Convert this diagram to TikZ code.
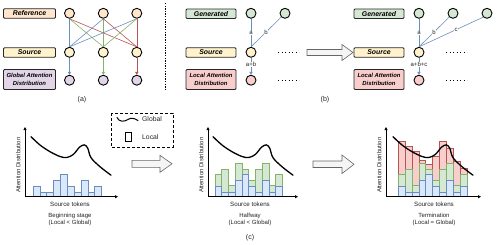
\documentclass[tikz,border=0pt]{standalone}
\usepackage{fontspec}
\setmainfont{Liberation Sans}
\usetikzlibrary{arrows.meta}
\definecolor{blueF}{HTML}{DAE8FC}
\definecolor{blueD}{HTML}{6C8EBF}
\definecolor{greenF}{HTML}{D5E8D4}
\definecolor{greenD}{HTML}{82B366}
\definecolor{redF}{HTML}{F8CECC}
\definecolor{redD}{HTML}{B85450}
\definecolor{purpF}{HTML}{E1D5E7}
\definecolor{orngF}{HTML}{FFE6CC}
\definecolor{yellF}{HTML}{FFF2CC}
\definecolor{arrF}{HTML}{F5F5F5}
\definecolor{arrD}{HTML}{666666}
\definecolor{txtC}{HTML}{222222}
\begin{document}
\begin{tikzpicture}[x=1pt,y=-1pt,
  lbox/.style={draw=black!85, line width=0.8pt, rounded corners=1pt, minimum width=52pt, minimum height=9.5pt, inner sep=0pt, font=\fontsize{6.9}{7.3}\selectfont\bfseries\itshape, align=center},
  lbox2/.style={lbox, minimum height=20pt, font=\fontsize{5.9}{7.3}\selectfont\bfseries\itshape},
  dot/.style={circle, draw=black, line width=0.9pt, minimum size=10pt, inner sep=0pt},
  lab/.style={font=\fontsize{6}{6}\selectfont, inner sep=0.3pt, fill=white, text=txtC},
  conn/.style={line width=0.6pt},
  tip/.style={-{Triangle[length=3pt,width=3.4pt]}},
  txt/.style={font=\fontsize{6}{7.2}\selectfont, align=center, inner sep=0pt, text=txtC},
  small/.style={font=\fontsize{6}{6}\selectfont, inner sep=0pt, text=txtC},
  hollow/.style={fill=arrF, draw=arrD, line width=0.6pt},
  axis/.style={line width=0.7pt, -{Triangle[length=3pt,width=3pt]}},
  curve/.style={line width=1.3pt, line cap=round},
  bbar/.style={fill=blueF, draw=blueD, line width=0.6pt},
  gbar/.style={fill=greenF, draw=greenD, line width=0.6pt},
  rbar/.style={fill=redF, draw=redD, line width=0.6pt},
  dots/.style={line width=0.9pt, dash pattern=on 0.9pt off 2.6pt}
]
\useasboundingbox (0,0) rectangle (498,244);

% ---------------- panel (a) ----------------
\node[lbox, fill=orngF] (refbox) at (29.5,13.5) {Reference};
\node[lbox, fill=yellF] (srcbox) at (29.5,52.5) {Source};
\node[lbox2, fill=purpF] (glbox) at (29.5,79.5) {Global Attention\\Distribution};

\foreach \x [count=\i] in {69.5,103.3,136.8}{
  \node[dot, fill=orngF] (r\i) at (\x,13.3) {};
  \node[dot, fill=yellF] (s\i) at (\x,52.3) {};
  \node[dot, fill=purpF] (d\i) at (\x,80.2) {};
}
\foreach \i in {1,2,3}{
  \draw[conn, blueD]  (r\i.south) -- (s1.north);
  \draw[conn, greenD] (r\i.south) -- (s2.north);
  \draw[conn, redD]   (r\i.south) -- (s3.north);
}
\draw[conn, blueD, tip]  (s1.south) -- (d1.north);
\draw[conn, greenD, tip] (s2.south) -- (d2.north);
\draw[conn, redD, tip]   (s3.south) -- (d3.north);
\node[txt, font=\fontsize{7}{8}\selectfont] (la) at (82,99.5) {(a)};

% divider
\coordinate (dvt) at (165,3);
\coordinate (dvb) at (165,90);
\draw[line width=0.6pt, dash pattern=on 1.3pt off 1.3pt] (dvt) -- (dvb);

% ---------------- panel (b) left ----------------
\node[lbox, fill=greenF, minimum width=50pt] (genboxA) at (211,13.8) {Generated};
\node[lbox, fill=yellF, minimum width=50pt] (srcboxA) at (211,52.5) {Source};
\node[lbox2, fill=redF, minimum width=50pt] (locboxA) at (211,79.5) {Local Attention\\Distribution};
\node[dot, fill=greenF] (gA1) at (251,13.3) {};
\node[dot, fill=greenF] (gA2) at (285,13.3) {};
\node[dot, fill=yellF] (sA) at (251,52.3) {};
\node[dot, fill=redF] (lA) at (251,80.2) {};
\draw[conn, blueD] (gA1.south) -- node[lab, pos=0.5] {a} (sA.north);
\draw[conn, blueD] (gA2.south west) -- node[lab, pos=0.5] {b} (sA.north);
\draw[conn, blueD, tip] (sA.south) -- node[lab, pos=0.4] {a+b} (lA.north);
\coordinate (dA1) at (278,52.3); \coordinate (dA2) at (299,52.3);
\coordinate (dA3) at (278,80.2); \coordinate (dA4) at (299,80.2);
\draw[dots] (dA1) -- (dA2);
\draw[dots] (dA3) -- (dA4);

% big hollow arrow (b)
\draw[hollow] (307,49.5) -- (342,49.5) -- (342,44.5) -- (353,52.5) -- (342,60.5) -- (342,55.5) -- (307,55.5) -- cycle;
\node[txt, font=\fontsize{7}{8}\selectfont] (lb) at (325,99.5) {(b)};

% ---------------- panel (b) right ----------------
\node[lbox, fill=greenF, minimum width=50pt] (genboxB) at (379,13.8) {Generated};
\node[lbox, fill=yellF, minimum width=50pt] (srcboxB) at (379,52.5) {Source};
\node[lbox2, fill=redF, minimum width=50pt] (locboxB) at (379,79.5) {Local Attention\\Distribution};
\node[dot, fill=greenF] (gB1) at (419,13.3) {};
\node[dot, fill=greenF] (gB2) at (453,13.3) {};
\node[dot, fill=greenF] (gB3) at (487,13.3) {};
\node[dot, fill=yellF] (sB) at (419,52.3) {};
\node[dot, fill=redF] (lB) at (419,80.2) {};
\draw[conn, blueD] (gB1.south) -- node[lab, pos=0.5] {a} (sB.north);
\draw[conn, blueD] (gB2.south west) -- node[lab, pos=0.5] {b} (sB.north);
\draw[conn, blueD] (gB3.south west) -- node[lab, pos=0.42] {c} (sB.north);
\draw[conn, blueD, tip] (sB.south) -- node[lab, pos=0.4] {a+b+c} (lB.north);
\coordinate (dB1) at (446,52.3); \coordinate (dB2) at (467,52.3);
\coordinate (dB3) at (446,80.2); \coordinate (dB4) at (467,80.2);
\draw[dots] (dB1) -- (dB2);
\draw[dots] (dB3) -- (dB4);

% ---------------- panel (c) ----------------
% legend
\draw[line width=1pt, dash pattern=on 3pt off 2pt] (111,113) rectangle (173,147);
\draw[line width=1pt, line cap=round] (117,117.5) .. controls (119,122) and (124,122) .. (128,119.5) .. controls (131,117.5) and (134,118) .. (138,120.5);
\node[small, anchor=west, font=\fontsize{6.8}{7}\selectfont] (lgG) at (142,119.5) {Global};
\draw[line width=0.9pt, fill=white] (125,132) rectangle (131,141.5);
\node[small, anchor=west, font=\fontsize{6.8}{7}\selectfont] (lgL) at (142,137) {Local};

% hollow arrows
\draw[hollow] (132,160.3) -- (160,160.3) -- (160,155.3) -- (172,163.8) -- (160,172.3) -- (160,167.3) -- (132,167.3) -- cycle;
\draw[hollow] (313,161) -- (342,161) -- (342,155) -- (354,164.3) -- (342,173.5) -- (342,167.5) -- (313,167.5) -- cycle;

% chart 1
\foreach \h [count=\i from 0] in {10,4.5,4.5,16,22,10,4.5,16,4.5,10}
  \draw[bbar] ({33+\i*6.85},196.7) rectangle ++(6.85,-\h);
% chart 2
\foreach \h [count=\i from 0] in {22,27,11,33,27,16,27,33,11,22}
  \draw[gbar] ({215+\i*6.75},196.7) rectangle ++(6.75,-\h);
\foreach \h [count=\i from 0] in {10,4.5,4.5,16,22,10,4.5,16,4.5,10}
  \draw[bbar] ({215+\i*6.75},196.7) rectangle ++(6.75,-\h);
% chart 3
\foreach \h [count=\i from 0] in {55.7,50,45,36.7,32.4,40,55,48.4,35,28.4}
  \draw[rbar] ({398.3+\i*6.85},196.7) rectangle ++(6.85,-\h);
\foreach \h [count=\i from 0] in {22,27,11,33,27,16,27,33,11,22}
  \draw[gbar] ({398.3+\i*6.85},196.7) rectangle ++(6.85,-\h);
\foreach \h [count=\i from 0] in {10,4.5,4.5,16,22,10,4.5,16,4.5,10}
  \draw[bbar] ({398.3+\i*6.85},196.7) rectangle ++(6.85,-\h);

\foreach \ox/\cx/\xl/\lx/\title [count=\k] in {25/25/93/70/{Beginning stage\\(Local < Global)}, 208/207/90/250/{Halfway\\(Local < Global)}, 386/387/95/434/{Termination\\(Local = Global)}}{
  \coordinate (o\k) at (\ox,196.7);
  \coordinate (yt\k) at (\ox,127);
  \coordinate (xr\k) at (\ox+\xl,196.7);
  \draw[axis] (o\k) -- (yt\k);
  \draw[axis] (o\k) -- (xr\k);
  \begin{scope}[shift={(\cx,196.7)}]
    \draw[curve] plot[smooth, tension=0.55] coordinates {(6,-60) (15,-51.7) (25,-45) (35,-40.2) (41.7,-39.2) (48.3,-42.2) (54.5,-49.5) (59.3,-51.8) (62.7,-48.6) (66,-39) (75,-30) (86,-21.5)};
  \end{scope}
  \node[small, rotate=90] (ad\k) at (\ox-6.8,165) {Attention Distribution};
  \node[small, font=\fontsize{6.2}{6.2}\selectfont] (st\k) at (\lx,204) {Source tokens};
  \node[txt] (ti\k) at (\lx,219.7) {\title};
}
\node[txt, font=\fontsize{7}{8}\selectfont] (lc) at (250,237.5) {(c)};
\end{tikzpicture}
\end{document}
